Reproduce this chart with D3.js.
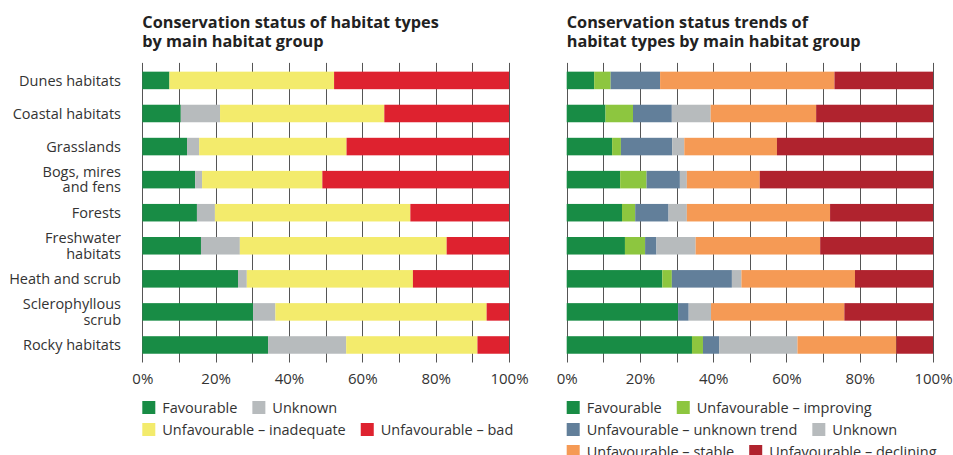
<!DOCTYPE html>
<html>
<head>
<meta charset="utf-8">
<script src="https://cdn.jsdelivr.net/npm/d3@7"></script>
<style>
  body { margin: 0; background: #fff; }
  text { font-family: "Open Sans", "DejaVu Sans", sans-serif; fill: #333; }
  .title { font-weight: bold; font-size: 16.3px; fill: #222; }
</style>
</head>
<body>
<div id="chart"></div>
<script>
// habitat groups (top to bottom)
var groups = ["Dunes habitats", "Coastal habitats", "Grasslands", "Bogs, mires|and fens", "Forests",
              "Freshwater|habitats", "Heath and scrub", "Sclerophyllous|scrub", "Rocky habitats"];

// left chart: conservation status (%)
var favourable  = [7.4, 10.5, 12.2, 14.4, 14.9, 16.0, 26.1, 30.2, 34.3];
var unknown     = [0,   10.7,  3.3,  1.9,  4.9, 10.6,  2.4,  6.1, 21.3];
var inadequate  = [44.9, 44.8, 40.2, 32.8, 53.3, 56.4, 45.3, 57.6, 35.8];
var bad         = [47.7, 34.0, 44.3, 50.9, 26.9, 17.0, 26.2, 6.1, 8.6];

// right chart: conservation status trends (%)
var trFavourable = [7.5, 10.6, 12.4, 14.6, 15.1, 15.9, 26.1, 30.4, 34.2];
var trImproving  = [4.5, 7.5, 2.4, 7.2, 3.6, 5.5, 2.6, 0, 3.0];
var trUnkTrend   = [13.5, 10.6, 14.0, 9.1, 9.1, 3.1, 16.4, 2.9, 4.4];
var trUnknown    = [0, 10.6, 3.3, 1.9, 5.0, 10.7, 2.6, 6.1, 21.4];
var trStable     = [47.6, 28.8, 25.3, 19.9, 39.1, 34.0, 31.0, 36.4, 27.0];
var trDeclining  = [26.9, 31.9, 42.6, 47.3, 28.1, 30.8, 21.3, 24.2, 10.0];

var tickLabels = [0, 20, 40, 60, 80, 100];

var leftKeys = ["Favourable", "Unknown", "Unfavourable – inadequate", "Unfavourable – bad"];
var leftColors = ["#188c45", "#b7bbbd", "#f3eb6c", "#de222f"];
var rightKeys = ["Favourable", "Unfavourable – improving", "Unfavourable – unknown trend", "Unknown",
                 "Unfavourable – stable", "Unfavourable – declining"];
var rightColors = ["#188c45", "#8dc63f", "#627f9a", "#b7bbbd", "#f59a55", "#b0232e"];

var width = 953, height = 455;

var svg = d3.select("#chart").append("svg")
    .attr("width", width)
    .attr("height", height);

var y = d3.scaleBand()
    .domain(groups)
    .range([62.9, 362.5])
    .paddingInner(0.47)
    .paddingOuter(0.265);

function makeRows(cols, keys) {
  return groups.map(function(g, i) {
    var row = {group: g};
    keys.forEach(function(k, j) { row[k] = cols[j][i]; });
    return row;
  });
}

function drawChart(x0, x1, title, rows, keys, colors, legendRows) {
  var x = d3.scaleLinear().domain([0, 100]).range([x0, x1]);
  var g = svg.append("g");

  // title
  g.append("text").attr("class", "title").attr("x", x0).attr("y", 28).text(title[0]);
  g.append("text").attr("class", "title").attr("x", x0).attr("y", 47).text(title[1]);

  // gridlines
  g.append("g").selectAll("line")
    .data(d3.range(0, 101, 10))
    .enter().append("line")
    .attr("x1", function(d) { return Math.round(x(d)) + 0.5; })
    .attr("x2", function(d) { return Math.round(x(d)) + 0.5; })
    .attr("y1", y.range()[0])
    .attr("y2", y.range()[1])
    .attr("stroke", "#555")
    .attr("stroke-width", 1);

  // bars
  var series = d3.stack().keys(keys)(rows);
  g.append("g").selectAll("g")
    .data(series)
    .enter().append("g")
    .attr("fill", function(d, i) { return colors[i]; })
    .selectAll("rect")
    .data(function(d) { return d; })
    .enter().append("rect")
    .attr("x", function(d) { return x(d[0]); })
    .attr("width", function(d) { return x(d[1]) - x(d[0]); })
    .attr("y", function(d) { return y(d.data.group); })
    .attr("height", y.bandwidth());

  // axis labels
  var axis = d3.axisBottom(x).tickValues(tickLabels)
      .tickFormat(function(d) { return d + "%"; })
      .tickSize(0).tickPadding(0);
  var ax = g.append("g").attr("transform", "translate(0,373)").call(axis);
  ax.select(".domain").remove();
  ax.selectAll("text").style("font-size", "15px").style("font-family", "Open Sans").attr("fill", "#333");

  // legend
  var ly = 401;
  legendRows.forEach(function(items) {
    var lx = x0;
    items.forEach(function(idx) {
      g.append("rect").attr("x", lx).attr("y", ly).attr("width", 13).attr("height", 13)
        .attr("fill", colors[idx]);
      var txt = g.append("text").attr("x", lx + 20).attr("y", ly + 11.5)
        .style("font-size", "14.5px").text(keys[idx]);
      lx += 20 + txt.node().getComputedTextLength() + 15;
    });
    ly += 22;
  });
  return g;
}

drawChart(142.3, 509, ["Conservation status of habitat types", "by main habitat group"],
  makeRows([favourable, unknown, inadequate, bad], leftKeys), leftKeys, leftColors,
  [[0, 1], [2, 3]]);

drawChart(566.7, 933, ["Conservation status trends of", "habitat types by main habitat group"],
  makeRows([trFavourable, trImproving, trUnkTrend, trUnknown, trStable, trDeclining], rightKeys),
  rightKeys, rightColors, [[0, 1], [2, 3], [4, 5]]);

// category labels (two-line labels split on "|")
var labelLines = [];
groups.forEach(function(d) {
  var lines = d.split("|");
  var cy = y(d) + y.bandwidth() / 2;
  lines.forEach(function(l, i) {
    labelLines.push({text: l, y: cy + (i - (lines.length - 1) / 2) * 15.5});
  });
});

svg.append("g").selectAll("text")
  .data(labelLines)
  .enter().append("text")
  .attr("text-anchor", "end")
  .style("font-size", "14.5px")
  .attr("x", 121)
  .attr("y", function(d) { return d.y; })
  .attr("dy", "0.35em")
  .text(function(d) { return d.text; });
</script>
</body>
</html>
